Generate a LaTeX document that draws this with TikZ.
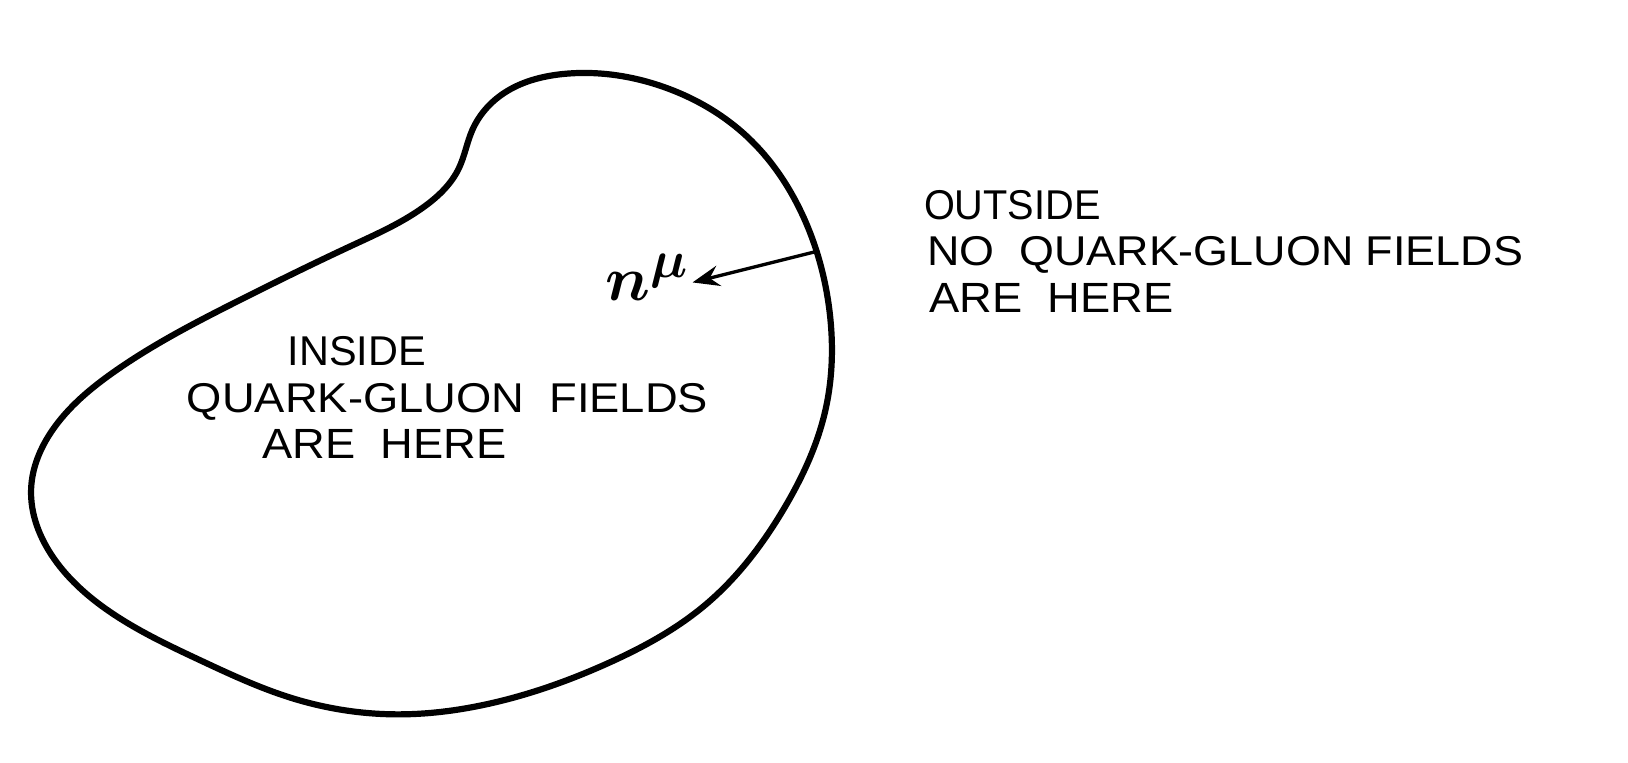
\documentclass[tikz,border=0pt]{standalone}
\usepackage{fontspec}
\setmainfont{Liberation Sans}
\usepackage{amsmath,amssymb}
\usetikzlibrary{arrows.meta,hobby}
\tikzset{
  outline/.style={line width=1.7pt, line join=round},
  nvec/.style={line width=0.9pt, -{Stealth[length=2.6mm, width=2.0mm, inset=0.9mm]}},
  lbl/.style={anchor=base west, inner sep=0pt, outer sep=0pt},
}
\newcommand{\fitline}[2]{\resizebox{#1mm}{2.8mm}{#2}}
\newcommand{\nmulabel}{\fontsize{19}{20}\selectfont$\boldsymbol{n}^{\boldsymbol{\mu}}$}
\begin{document}
\begin{tikzpicture}[x=0.1mm, y=-0.1mm]
\path[use as bounding box] (0,0) rectangle (1568,734);
% bag boundary
\draw[outline, use Hobby shortcut, closed=true]
 (545,71) .. (640,84) .. (720,132) .. (772,205) .. (799,300) .. (795,395)
 .. (755,490) .. (680,582) .. (585,639) .. (470,678) .. (380,688)
 .. (280,672) .. (193,636) .. (110,592) .. (52,538) .. (30,470)
 .. (50,415) .. (110,358) .. (231,289) .. (340,236) .. (410,198)
 .. (442,162) .. (455,125) .. (482,92);
% normal vector
\coordinate (wall) at (787,242);
\coordinate (tip) at (667,272);
\draw[nvec] (wall) -- (tip);
\node[lbl] (nmu) at (583,289) {\nmulabel};
% inside text
\node[lbl] (in1) at (277,352) {\fitline{13.3}{INSIDE}};
\node[lbl] (in2) at (180,397) {\fitline{50.2}{QUARK-GLUON~~FIELDS}};
\node[lbl] (in3) at (253,442) {\fitline{23.5}{ARE~~HERE}};
% outside text
\node[lbl] (out1) at (890,211) {\fitline{17.0}{OUTSIDE}};
\node[lbl] (out2) at (893,256) {\fitline{57.4}{NO~~QUARK-GLUON~FIELDS}};
\node[lbl] (out3) at (895,301) {\fitline{23.5}{ARE~~HERE}};
\end{tikzpicture}
\end{document}
